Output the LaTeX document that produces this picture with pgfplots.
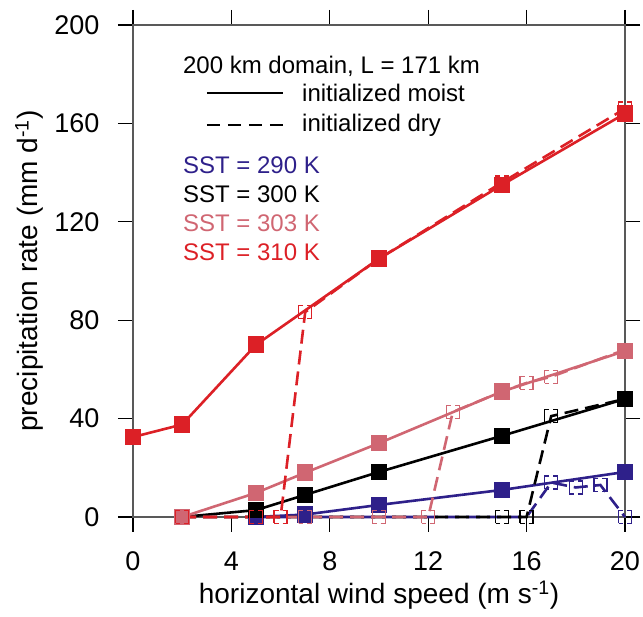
\documentclass[border=0pt]{standalone}
\usepackage{fontspec}
\setmainfont{Liberation Sans}
\usepackage{pgfplots}
\pgfplotsset{compat=1.18}

\definecolor{sstA}{HTML}{2E208A}
\definecolor{sstB}{HTML}{000000}
\definecolor{sstC}{HTML}{D06672}
\definecolor{sstD}{HTML}{DC2026}

\pgfplotsset{
  moist/.style={solid, line width=2.6pt, mark=square*, mark size=7.8pt,
    mark options={solid, line width=1pt}},
  dry/.style={dash pattern=on 14pt off 7pt, line width=2.6pt, mark=square,
    mark size=6.5pt, mark options={line width=1.3pt, fill=none,
      dash pattern=on 22pt off 4pt, dash phase=17.5pt}},
}

\begin{document}
\begin{tikzpicture}
\useasboundingbox (-133pt,-100pt) rectangle (510pt,517pt);
\begin{axis}[
    scale only axis,
    width=492pt, height=492pt,
    xmin=0, xmax=20, ymin=0, ymax=200,
    xtick={0,4,...,20},
    ytick={0,40,...,200},
    tick align=outside,
    tick pos=both,
    major tick length=15pt,
    tick style={line width=1.2pt, black},
    axis line style={line width=1.2pt, black!65},
    ticklabel style={font=\fontsize{27}{30}\selectfont},
    xticklabel shift=16pt,
    yticklabel shift=15pt,
    /pgf/number format/assume math mode=true,
    xlabel={horizontal wind speed (m s\textsuperscript{-1})},
    ylabel={precipitation rate (mm d\textsuperscript{-1})},
    label style={font=\fontsize{28}{32}\selectfont},
    xlabel style={at={(axis description cs:0.5,-0.1585)}, anchor=center},
    ylabel style={at={(axis description cs:-0.211,0.5)}, anchor=center},
    clip=false,
]
% SST = 290 K
\addplot[moist, color=sstA] coordinates {(5,0) (7,1) (10,4.9) (15,11) (20,18.3)};
\addplot[dry, color=sstA] coordinates {(5,0) (7,0) (10,0) (15,0) (16,0) (17,14) (18,12) (19,13) (20,0)};
% SST = 300 K
\addplot[moist, color=sstB] coordinates {(2,0) (5,2.8) (7,9) (10,18.3) (15,33) (20,48)};
\addplot[dry, color=sstB] coordinates {(2,0) (5,0) (7,0) (10,0) (15,0) (16,0) (17,41) (20,48)};
% SST = 303 K
\addplot[moist, color=sstC] coordinates {(2,0) (5,9.8) (7,18) (10,30) (15,51) (20,67.5)};
\addplot[dry, color=sstC] coordinates {(2,0) (5,0) (7,0) (10,0) (12,0) (13,42.7) (15,51) (16,54.5) (17,57) (20,68)};
% SST = 310 K
\addplot[moist, color=sstD] coordinates {(0,32.5) (2,37.6) (5,70) (10,105) (15,135) (20,164)};
\addplot[dry, color=sstD] coordinates {(2,0) (5,0) (6,0) (7,83.3) (10,105) (15,136) (20,166)};

% legend text
\node[anchor=west, inner sep=0pt, font=\fontsize{24}{26}\selectfont] at (axis cs:2.03,183.3) {200 km domain, L = 171 km};
\draw[line width=2.6pt] (axis cs:3,172.4) -- (axis cs:6.1,172.4);
\node[anchor=west, inner sep=0pt, font=\fontsize{24}{26}\selectfont] at (axis cs:6.87,172.4) {initialized moist};
\draw[line width=2.6pt, dash pattern=on 13pt off 8pt] (axis cs:3,159.3) -- (axis cs:6.1,159.3);
\node[anchor=west, inner sep=0pt, font=\fontsize{24}{26}\selectfont] at (axis cs:6.87,159.3) {initialized dry};
\node[anchor=west, inner sep=0pt, text=sstA, font=\fontsize{24}{26}\selectfont] at (axis cs:2.03,143.1) {SST = 290 K};
\node[anchor=west, inner sep=0pt, text=sstB, font=\fontsize{24}{26}\selectfont] at (axis cs:2.03,131.3) {SST = 300 K};
\node[anchor=west, inner sep=0pt, text=sstC, font=\fontsize{24}{26}\selectfont] at (axis cs:2.03,119.5) {SST = 303 K};
\node[anchor=west, inner sep=0pt, text=sstD, font=\fontsize{24}{26}\selectfont] at (axis cs:2.03,107.7) {SST = 310 K};
\end{axis}
\end{tikzpicture}
\end{document}
